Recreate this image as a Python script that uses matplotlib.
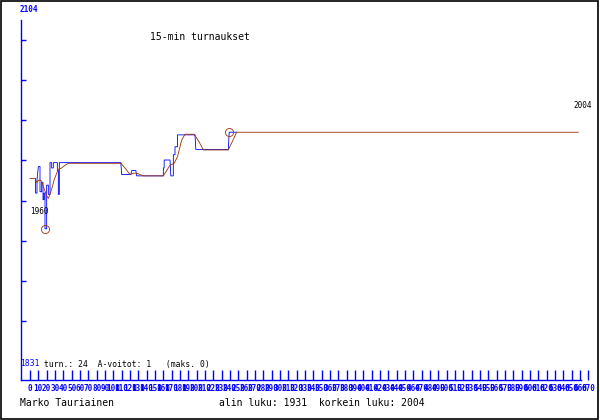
import numpy as np
import matplotlib
matplotlib.use("Agg")
import matplotlib.pyplot as plt
from matplotlib.patches import Rectangle

W, H = 600, 420

# rating history, blue = single results, brown = smoothed
blue_x = [6.6, 6.6, 8.4, 8.4, 10, 12, 12, 14, 14, 15.6, 15.6, 16.8, 16.8, 18, 18, 20, 20,
          22, 22, 24, 24, 26, 26, 28, 28, 32.8, 32.8, 34, 34, 35.2, 35.2, 109, 110, 121,
          122, 127, 128, 160, 160, 161, 161, 168, 169, 172, 172, 174, 174, 177, 177, 198,
          199, 238, 239, 248]
blue_y = [1969, 1958, 1958, 1968, 1978, 1978, 1959, 1959, 1966, 1966, 1953, 1953, 1958,
          1958, 1931, 1931, 1964, 1964, 1957, 1957, 1981, 1981, 1977, 1977, 1981, 1981,
          1975, 1975, 1957, 1957, 1981, 1981, 1972, 1972, 1975, 1975, 1971, 1971, 1977,
          1977, 1983, 1983, 1971, 1971, 1987, 1987, 1993, 1993, 2002, 2002, 1991, 1991,
          2004, 2004]

brown_x = [0, 6, 8, 11, 14, 16, 20, 22, 24, 26, 29, 32, 34, 38, 42, 46, 109, 114, 120,
           124, 128, 132, 136, 160, 163, 168, 173, 177, 182, 186, 197, 203, 208, 238,
           248, 658]
brown_y = [1969, 1969, 1966, 1968, 1967, 1963, 1956, 1954, 1957, 1961, 1968, 1973, 1976,
           1977, 1979, 1980.5, 1980.5, 1977, 1972, 1973, 1973, 1972, 1971, 1971, 1974,
           1979, 1980.5, 1985.5, 1998, 2002.5, 2002.5, 1996.6, 1990.6, 1990.6, 2004, 2004]

min_point = (18, 1931)
max_point = (239, 2004)

y_low, y_high = 1831, 2104
x_ticks = list(range(0, 680, 10))

fig = plt.figure(figsize=(W / 100, H / 100), dpi=100)
fig.patch.set_facecolor("white")

def fx(px):
    return px / W

def fy(py):
    return 1 - py / H

# axes box in pixels: x 21..595, y 20..380
ax = fig.add_axes([fx(21), fy(380), fx(595) - fx(21), fy(20) - fy(380)])
ax.set_xlim((21 - 30) * 1.2, (595 - 30) * 1.2)
ax.set_ylim(y_high - 380 * 273 / 361, y_high - 20 * 273 / 361)

ax.plot(blue_x, blue_y, color="#0000ff", lw=0.6, antialiased=True)
ax.plot(brown_x, brown_y, color="#993300", lw=0.6, antialiased=True)
ax.plot(*min_point, "o", ms=5.8, mfc="none", mec="#993300", mew=0.6)
ax.plot(*max_point, "o", ms=5.8, mfc="none", mec="#993300", mew=0.6)

for s in ["top", "right"]:
    ax.spines[s].set_visible(False)
for s in ["left", "bottom"]:
    ax.spines[s].set_color("#0000ff")
    ax.spines[s].set_linewidth(1.0)
ax.spines["bottom"].set_bounds((21 - 30) * 1.2, (581 - 30) * 1.2)

ax.set_yticks(np.linspace(y_low, y_high, 10)[1:9])
ax.set_yticklabels([])
ax.tick_params(axis="y", direction="in", length=3.6, width=1.0, color="#0000ff")
ax.set_xticks(x_ticks)
ax.set_xticklabels([str(t) for t in x_ticks], fontsize=5.5, color="#0000ff",
                   fontweight="bold", family="DejaVu Sans Mono")
ax.tick_params(axis="x", direction="in", length=7.2, width=1.0, color="#0000ff", pad=3)

mono = "DejaVu Sans Mono"
fig.text(fx(150), fy(37), "15-min turnaukset", fontsize=7, family=mono, va="center")
fig.text(fx(20), fy(9), "2104", fontsize=5.5, family=mono, color="#0000ff",
         fontweight="bold", va="center")
fig.text(fx(573), fy(105), "2004", fontsize=5.5, family=mono, va="center")
fig.text(fx(30), fy(212), "1960", fontsize=5.5, family=mono, va="center", zorder=5)
fig.text(fx(20), fy(364), "1831", fontsize=5.8, family=mono, color="#0000ff", va="center")
fig.text(fx(44), fy(364), "turn.: 24  A-voitot: 1   (maks. 0)", fontsize=5.8,
         family=mono, va="center")
fig.text(fx(20), fy(403), "Marko Tauriainen", fontsize=7, family=mono, va="center")
fig.text(fx(219), fy(403), "alin luku: 1931  korkein luku: 2004", fontsize=7,
         family=mono, va="center")

fig.patches.append(Rectangle((0.001, 0.002), 0.996, 0.996, transform=fig.transFigure,
                             fill=False, ec="black", lw=1.2))

fig.savefig("out.png", dpi=100)
